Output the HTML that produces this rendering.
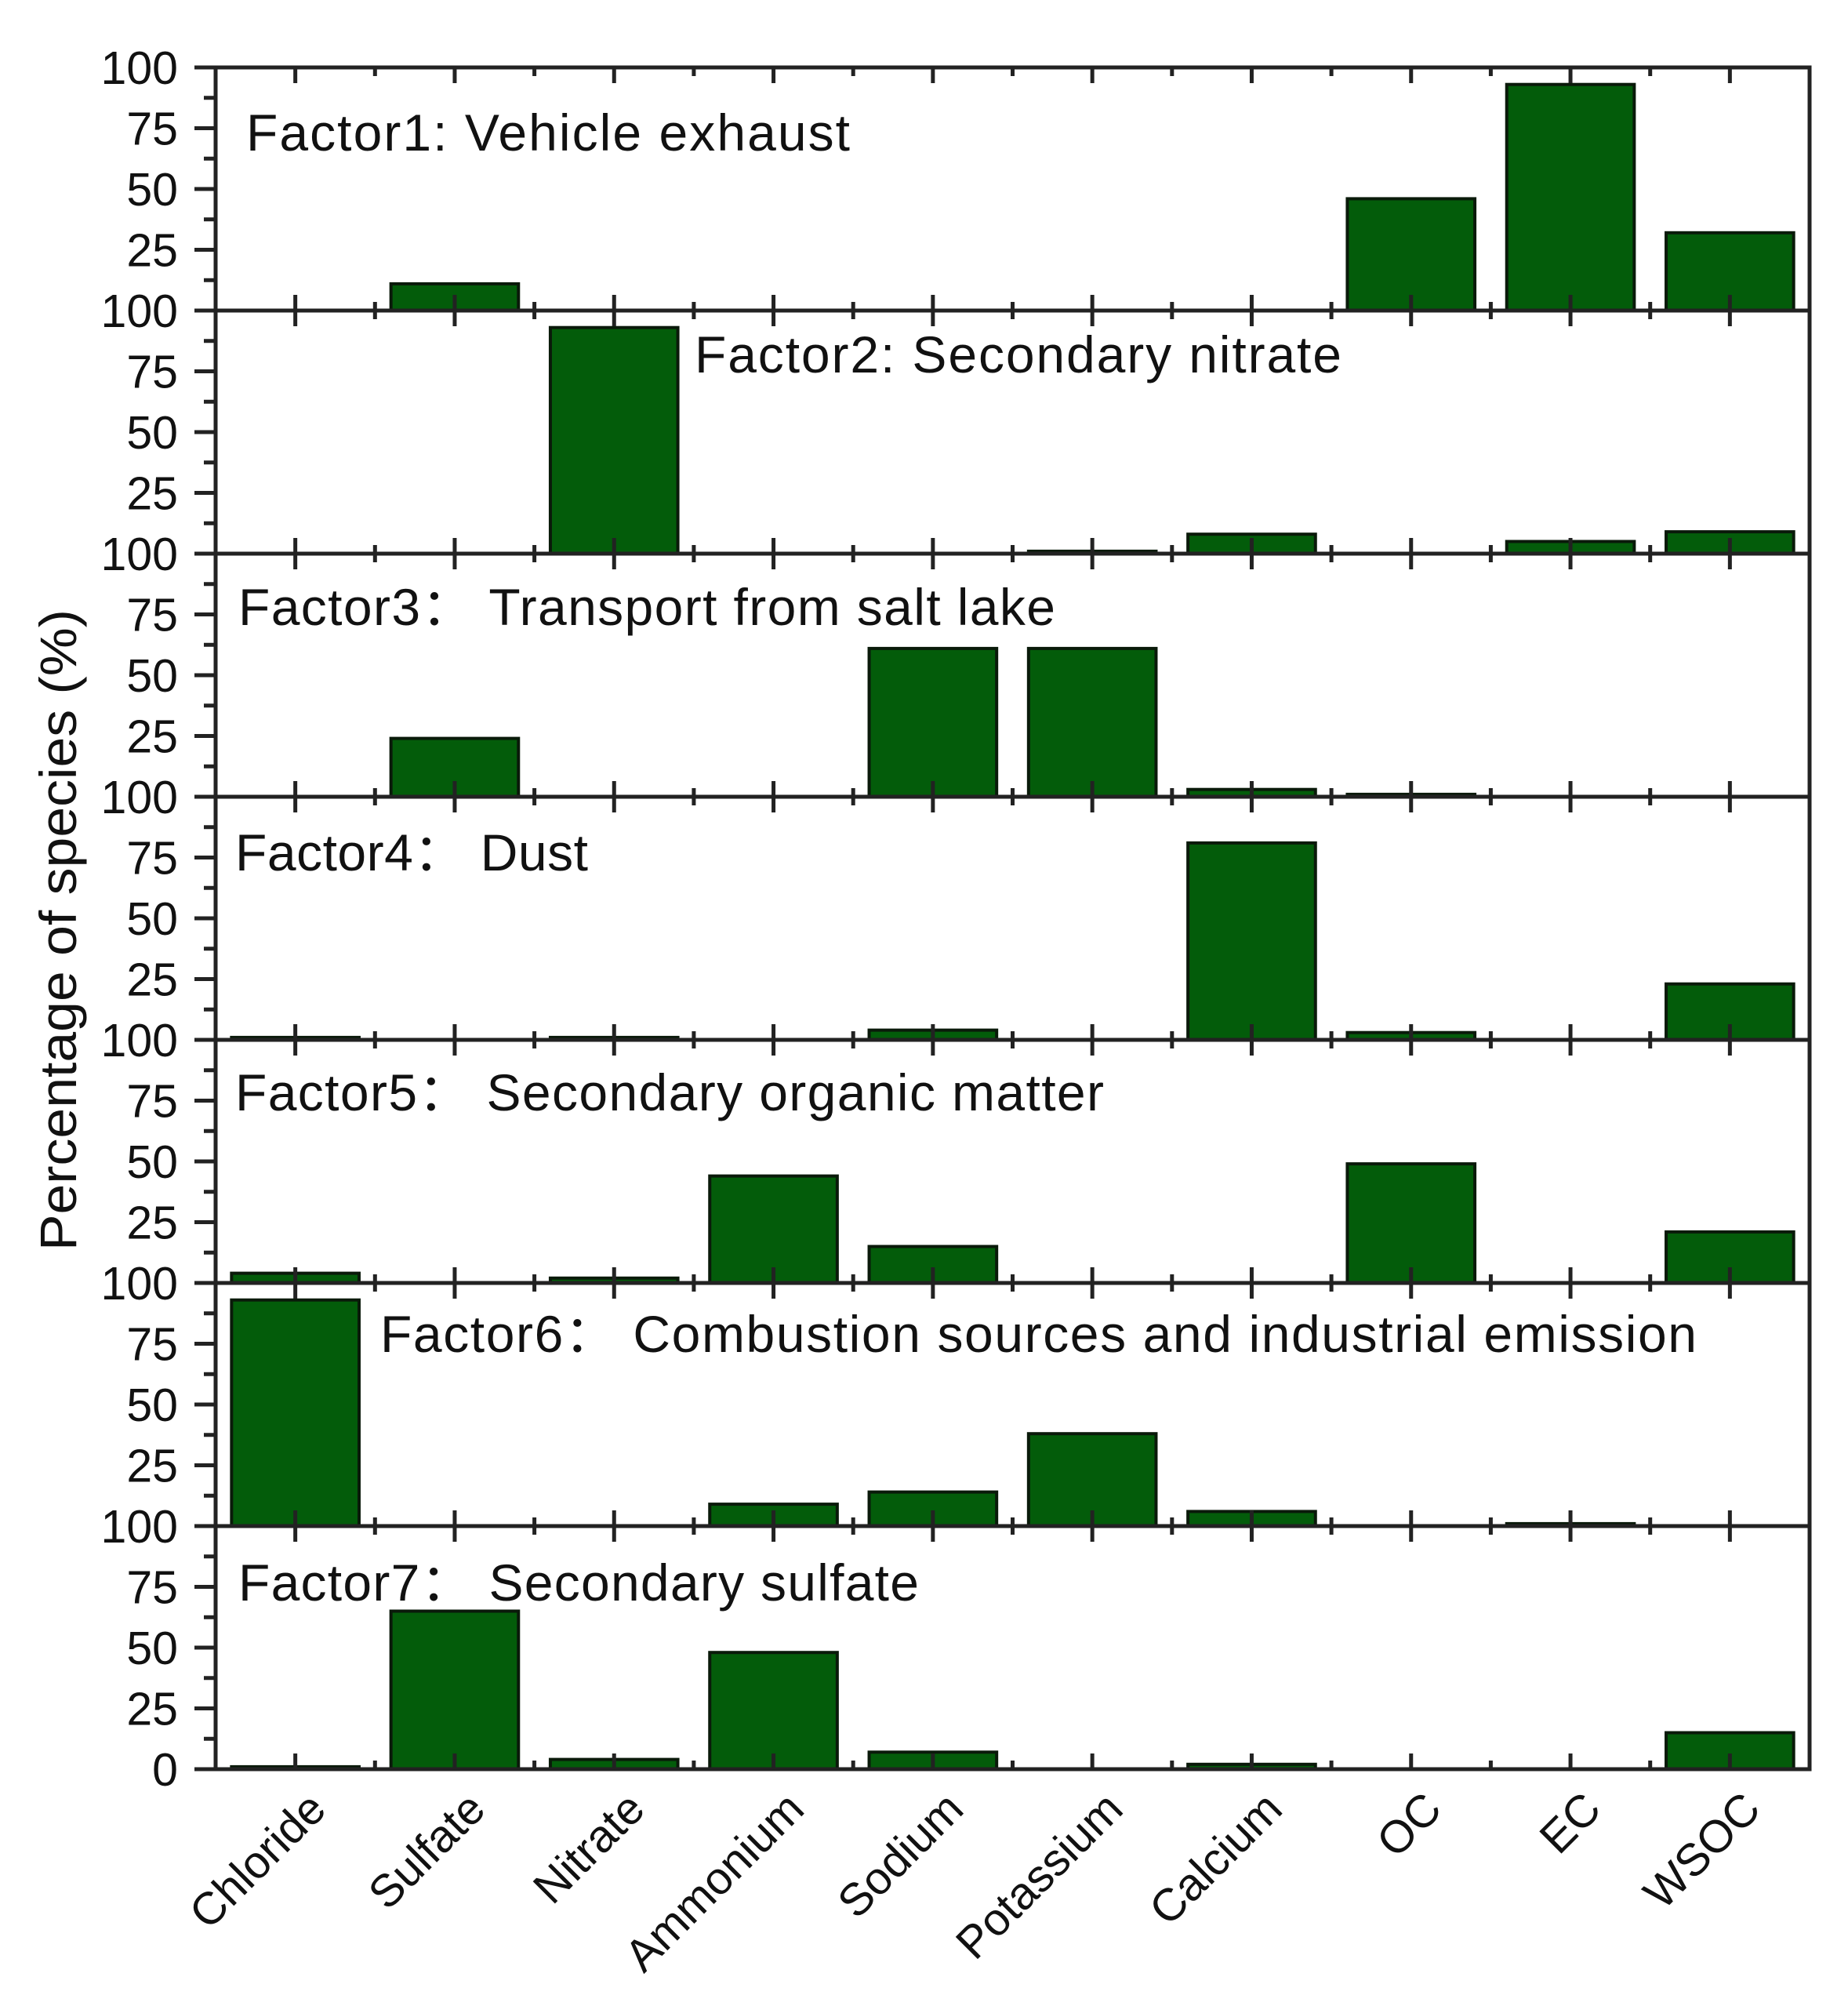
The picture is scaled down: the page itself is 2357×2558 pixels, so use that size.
<!DOCTYPE html>
<html><head><meta charset="utf-8"><style>
html,body{margin:0;padding:0;background:#fff;}
svg{display:block;font-family:"Liberation Sans",Arial,sans-serif;}
</style></head><body>
<svg id="chart" width="2357" height="2558" viewBox="0 0 2357 2558" xmlns="http://www.w3.org/2000/svg"></svg>
<script>
const categories = ["Chloride","Sulfate","Nitrate","Ammonium","Sodium","Potassium","Calcium","OC","EC","WSOC"];
const factor1 = [0,11,0,0,0,0,0,46,93,32];
const factor2 = [0,0,93,0,0,1,8,0,5,9];
const factor3 = [0,24,0,0,61,61,3,1,0,0];
const factor4 = [1,0,1,0,4,0,81,3,0,23];
const factor5 = [4,0,2,44,15,0,0,49,0,21];
const factor6 = [93,0,0,9,14,38,6,0,1,0];
const factor7 = [1,65,4,48,7,0,2,0,0,15];
const seriesValues = [factor1,factor2,factor3,factor4,factor5,factor6,factor7];
const factorTitles = ["Factor1: Vehicle exhaust","Factor2: Secondary nitrate","Factor3\uFF1A Transport from salt lake","Factor4\uFF1A Dust","Factor5\uFF1A Secondary organic matter","Factor6\uFF1A Combustion sources and industrial emission","Factor7\uFF1A Secondary sulfate"];
const yTicks = [0,25,50,75,100];
const yTitle = "Percentage of species (%)";

const NS="http://www.w3.org/2000/svg";
const svg=document.getElementById('chart');
const X0=275, X1=2308, TOP=86, PH=310, N=categories.length;
const step=(X1-X0)/N;
function xCenter(i){return X0+(i+0.5)*step;}
function panelTop(p){return TOP+p*PH;}
function yScale(p,v){return panelTop(p)+PH-(v/100)*PH;}
function mk(tag,attrs,parent){const e=document.createElementNS(NS,tag);for(const k in attrs)e.setAttribute(k,attrs[k]);(parent||svg).appendChild(e);return e;}

const titleLayout=[[314,192,770],[886,475,825],[304,797,1042],[300,1110,450],[300,1416,1108],[485,1724,1679],[304,2041,868]];

seriesValues.forEach((vals,p)=>{
  const g=mk('g',{});
  
  
  vals.forEach((v,i)=>{
    if(v<=0)return;
    const y=yScale(p,v), y0=yScale(p,0);
    const r=mk('rect',{x:xCenter(i)-step*0.4,y:y,width:step*0.8,height:y0-y,fill:'#035c0a',stroke:'#0a1a0a','stroke-width':4},g);
    
    
  });
  for(let i=0;i<N;i++){
    const cx=xCenter(i), bx=X0+(i+1)*step, t=panelTop(p), b=panelTop(p)+PH;
    mk('line',{x1:cx,x2:cx,y1:t,y2:t+20,stroke:'#222','stroke-width':5},g);
    mk('line',{x1:cx,x2:cx,y1:b,y2:b-20,stroke:'#222','stroke-width':5},g);
    if(i<N-1){
      mk('line',{x1:bx,x2:bx,y1:t,y2:t+11,stroke:'#222','stroke-width':5},g);
      mk('line',{x1:bx,x2:bx,y1:b,y2:b-11,stroke:'#222','stroke-width':5},g);
    }
  }
  yTicks.forEach(v=>{
    const y=yScale(p,v);
    mk('line',{x1:X0-27,x2:X0,y1:y,y2:y,stroke:'#222','stroke-width':5},g);
    if(v<100){const ym=yScale(p,v+12.5);mk('line',{x1:X0-15,x2:X0,y1:ym,y2:ym,stroke:'#222','stroke-width':5},g);}
    if(v===0 && p<seriesValues.length-1)return;
    const t=mk('text',{x:227,y:y+21,'font-size':59,'text-anchor':'end',fill:'#111'},g);
    t.textContent=String(v);
    
    
  });
  mk('rect',{x:X0,y:panelTop(p),width:X1-X0,height:PH,fill:'none',stroke:'#222','stroke-width':5},g);
  const L=titleLayout[p];
  const tt=mk('text',{x:L[0],y:L[1],'font-size':66,fill:'#111',textLength:L[2],lengthAdjust:'spacing'},g);
  tt.textContent=factorTitles[p];
  
  
});

categories.forEach((c,i)=>{
  const x=xCenter(i)+42, y=2310;
  const t=mk('text',{x:x,y:y,'font-size':58,'text-anchor':'end',fill:'#111',transform:'rotate(-45 '+x+' '+y+')'});
  t.textContent=c;
  
  
});

const yt=mk('text',{x:0,y:0,'font-size':66,'text-anchor':'middle',fill:'#111',transform:'translate(97 1186) rotate(-90)',textLength:818,lengthAdjust:'spacingAndGlyphs'});
yt.textContent=yTitle;


</script>
</body></html>
